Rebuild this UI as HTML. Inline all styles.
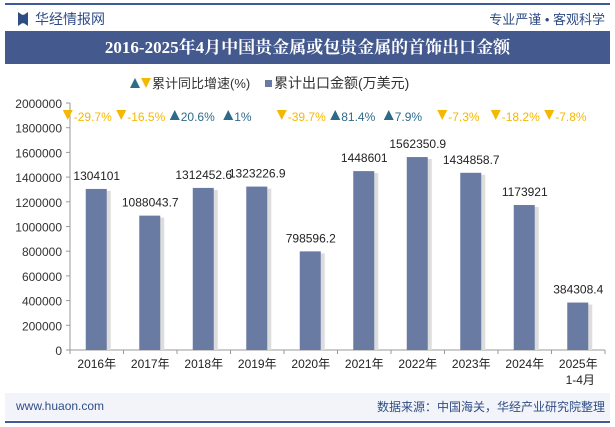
<!DOCTYPE html>
<html><head><meta charset="utf-8">
<style>
body{margin:0;width:615px;height:427px;background:#fff;font-family:"Liberation Sans","Noto Sans CJK SC",sans-serif;overflow:hidden;position:relative}
.abs{position:absolute}
</style></head><body>
<div class="abs" style="left:5px;top:3px;width:605px;height:2px;background:#3d5a99"></div>
<div class="abs" style="left:18px;top:12px;width:10px;height:14px;background:#2f4d85;clip-path:polygon(0 0,40% 20%,60% 20%,100% 0,100% 100%,60% 80%,40% 80%,0 100%)"></div>
<div class="abs" style="left:35px;top:9px;font-size:14px;color:#2f4d85">华经情报网</div>
<div class="abs" style="right:10px;top:9px;font-size:13px;color:#2f4d85">专业严谨 • 客观科学</div>
<div class="abs" style="left:5px;top:31px;width:605px;height:33px;background:#44598d;color:#fff;font-size:17px;font-weight:bold;text-align:center;line-height:33px;font-family:'Liberation Serif','Noto Serif CJK SC',serif">2016-2025年4月中国贵金属或包贵金属的首饰出口金额</div>
<div class="abs" style="left:5px;top:393px;width:605px;height:27px;background:#f2f4f9"></div>
<div class="abs" style="left:16px;top:399px;font-size:12px;color:#2f4d85">www.huaon.com</div>
<div class="abs" style="right:10px;top:398px;font-size:12px;color:#2f4d85">数据来源：中国海关，华经产业研究院整理</div>
<div class="abs" style="left:5px;top:421px;width:605px;height:2px;background:#3d5a99"></div>
<svg class="abs" style="left:0;top:0" width="615" height="427" id="chart"></svg>
<script>
const categories=["2016年","2017年","2018年","2019年","2020年","2021年","2022年","2023年","2024年","2025年"];
const values=[1304101,1088043.7,1312452.6,1323226.9,798596.2,1448601,1562350.9,1434858.7,1173921,384308.4];
const valueLabels=["1304101","1088043.7","1312452.6","1323226.9","798596.2","1448601","1562350.9","1434858.7","1173921","384308.4"];
const growth=[-29.7,-16.5,20.6,1,-39.7,81.4,7.9,-7.3,-18.2,-7.8];
const yTicks=[0,200000,400000,600000,800000,1000000,1200000,1400000,1600000,1800000,2000000];
const NS="http://www.w3.org/2000/svg";
const svg=document.getElementById('chart');
const x0=70,x1=605,yb=350,yt=103,ymax=2000000;
const bw=(x1-x0)/categories.length;
const y=v=>yb-(v/ymax)*(yb-yt);
const xc=i=>x0+bw*(i+0.5);
function mk(t,a,txt){const e=document.createElementNS(NS,t);for(const k in a)e.setAttribute(k,a[k]);if(txt!==undefined)e.textContent=txt;svg.appendChild(e);return e;}
function tri(x,yy,up,col){const p=up?`${x},${yy+10} ${x+10},${yy+10} ${x+5},${yy}`:`${x},${yy} ${x+10},${yy} ${x+5},${yy+10}`;return mk('polygon',{points:p,fill:col});}
let e;
e=tri(130,78,true,'#2e6b8a');
e=tri(141,78,false,'#f5b800');
e=mk('text',{x:152,y:88,'font-size':13,fill:'#333'},'累计同比增速(%)');

e=mk('rect',{x:265,y:80,width:7,height:7,fill:'#6a7ba3'});
e=mk('text',{x:274,y:88,'font-size':14,fill:'#333'},'累计出口金额(万美元)');
e=mk('line',{x1:x0,y1:yt,x2:x0,y2:yb,stroke:'#999'});
e=mk('line',{x1:x0,y1:yb,x2:x1,y2:yb,stroke:'#999'});
yTicks.forEach(t=>{
 e=mk('text',{x:62,y:y(t)+5,'font-size':12,fill:'#333','text-anchor':'end'},String(t));
 
 e=mk('line',{x1:x0-4,y1:y(t),x2:x0,y2:y(t),stroke:'#999'});
 
});
for(let i=0;i<=categories.length;i++){e=mk('line',{x1:x0+bw*i,y1:yb,x2:x0+bw*i,y2:yb+4,stroke:'#999'});}
categories.forEach((c,i)=>{
 const cx=xc(i);
 e=mk('rect',{x:cx-8,y:y(values[i])+2,width:22,height:yb-y(values[i])-2,fill:'#ddd'});
 
 e=mk('rect',{x:cx-11,y:y(values[i]),width:21,height:yb-y(values[i]),fill:'#6a7ba3'});
 
 e=mk('text',{x:cx,y:y(values[i])-9,'font-size':12,fill:'#222','text-anchor':'middle'},valueLabels[i]);
 
 e=mk('text',{x:cx,y:368,'font-size':12,fill:'#222','text-anchor':'middle'},c);
 
 const up=growth[i]>=0;const col=up?'#2e6b8a':'#f5b800';
 e=tri(cx-34,110,up,col);
 e=mk('text',{x:cx-23,y:121,'font-size':12,fill:col},growth[i]+'%');
 
});
e=mk('text',{x:xc(9)+2,y:384,'font-size':12,fill:'#222','text-anchor':'middle'},'1-4月');

</script>
</body></html>
